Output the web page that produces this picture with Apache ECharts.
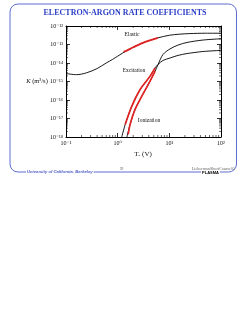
<!DOCTYPE html>
<html>
<head>
<meta charset="utf-8">
<script src="https://cdn.jsdelivr.net/npm/echarts@6/dist/echarts.min.js"></script>
<style>
  html, body { margin: 0; padding: 0; background: #fff; }
  #chart { width: 250px; height: 323px; }
</style>
</head>
<body>
<div id="chart"></div>
<script>
// Te (V) and rate coefficient K (m^3/s)
var elasticT = [0.1, 0.16, 0.25, 0.4, 0.6, 0.8, 1.0, 1.5, 2.0, 3.0, 4.5, 6, 10, 16, 25, 50, 100]
var elasticK = [2.69e-15, 2.34e-15, 2.95e-15, 5.0e-15, 1.0e-14, 1.58e-14, 2.34e-14, 4.7e-14, 7.1e-14, 1.2e-13, 1.78e-13, 2.29e-13, 3.16e-13, 3.63e-13, 3.89e-13, 4.07e-13, 4.07e-13]
var elasticRedT = [1.3, 1.5, 2.0, 3.0, 4.5, 6]
var elasticRedK = [4.0e-14, 4.7e-14, 7.1e-14, 1.2e-13, 1.78e-13, 2.29e-13]

var excitT = [1.2, 1.4, 1.88, 2.72, 4.24, 5.3, 6.05, 7.55, 10.3, 14.7, 22, 44.7, 100]
var excitK = [1e-18, 4.8e-18, 4.7e-17, 3.7e-16, 1.95e-15, 5.5e-15, 8.3e-15, 1.38e-14, 1.86e-14, 2.57e-14, 3.24e-14, 4.17e-14, 4.8e-14]
var excitRedT = [1.4, 1.88, 2.72, 4.24, 5.3]
var excitRedK = [4.8e-18, 4.7e-17, 3.7e-16, 1.95e-15, 5.5e-15]

var ionT = [1.51, 1.74, 2.17, 2.93, 4.24, 5.3, 6.05, 7.55, 10.3, 14.7, 22, 44.7, 100]
var ionK = [1e-18, 4.8e-18, 3.1e-17, 1.6e-16, 1.05e-15, 3.6e-15, 8.3e-15, 2.9e-14, 5.75e-14, 9.3e-14, 1.29e-13, 1.74e-13, 2.04e-13]
var ionRedT = [1.6, 1.74, 2.17, 2.93, 4.24, 5.3]
var ionRedK = [1.4e-18, 4.8e-18, 3.1e-17, 1.6e-16, 1.05e-15, 3.6e-15]

var xMin = 0.1, xMax = 100
var yMin = 1e-18, yMax = 1e-12

var serif = '"Liberation Serif", "DejaVu Serif", serif'
var sup = { '-': '⁻', '0': '⁰', '1': '¹', '2': '²', '3': '³', '4': '⁴', '5': '⁵', '6': '⁶', '7': '⁷', '8': '⁸', '9': '⁹' }

function pow10Label(v) {
  var e = Math.round(Math.log10(v))
  return '10' + String(e).split('').map(function (c) { return sup[c] }).join('')
}

function zip(a, b) {
  return a.map(function (v, i) { return [v, b[i]] })
}

// minor log ticks 2..9 in each decade
function minorTicks(lo, hi) {
  var out = []
  for (var e = lo; e < hi; e++) {
    for (var m = 2; m <= 9; m++) out.push(m * Math.pow(10, e))
  }
  return out
}

var chart = echarts.init(document.getElementById('chart'))

function axisCommon(show) {
  return {
    type: 'log',
    logBase: 10,
    axisLine: { show: true, lineStyle: { color: '#000', width: 1 } },
    axisTick: { show: true, inside: true, length: 4, lineStyle: { color: '#000', width: 0.8 } },
    splitLine: { show: false },
    axisLabel: {
      show: show,
      fontFamily: serif,
      fontSize: 6,
      color: '#111',
      formatter: pow10Label
    }
  }
}

var xBottom = axisCommon(true)
xBottom.min = xMin; xBottom.max = xMax; xBottom.position = 'bottom'
xBottom.axisLabel.margin = 3
var xTop = axisCommon(false)
xTop.min = xMin; xTop.max = xMax; xTop.position = 'top'
var yLeft = axisCommon(true)
yLeft.min = yMin; yLeft.max = yMax; yLeft.position = 'left'
yLeft.axisLabel.margin = 3
var yRight = axisCommon(false)
yRight.min = yMin; yRight.max = yMax; yRight.position = 'right'

function lineSeries(t, k, color, width) {
  return {
    type: 'line',
    data: zip(t, k),
    showSymbol: false,
    smooth: 0.3,
    silent: true,
    lineStyle: { color: color, width: width },
    z: color === '#000' ? 2 : 3
  }
}

chart.setOption({
  backgroundColor: '#fff',
  animation: false,
  grid: { left: 66, top: 26, width: 155, height: 111 },
  xAxis: [xBottom, xTop],
  yAxis: [yLeft, yRight],
  series: [
    lineSeries(elasticT, elasticK, '#000', 0.9),
    lineSeries(excitT, excitK, '#000', 0.9),
    lineSeries(ionT, ionK, '#000', 0.9),
    lineSeries(elasticRedT, elasticRedK, '#e02424', 1.9),
    lineSeries(excitRedT, excitRedK, '#e02424', 1.7),
    lineSeries(ionRedT, ionRedK, '#e02424', 1.7),
    {
      type: 'custom',
      silent: true,
      data: minorTicks(-1, 2).map(function (v) { return [v, 1e-15] }),
      renderItem: function (params, api) {
        var cs = params.coordSys
        var x = api.coord([api.value(0), api.value(1)])[0]
        var st = { stroke: '#000', lineWidth: 0.6 }
        return {
          type: 'group',
          children: [
            { type: 'line', shape: { x1: x, y1: cs.y + cs.height, x2: x, y2: cs.y + cs.height - 2 }, style: st },
            { type: 'line', shape: { x1: x, y1: cs.y, x2: x, y2: cs.y + 2 }, style: st }
          ]
        }
      }
    },
    {
      type: 'custom',
      silent: true,
      data: minorTicks(-18, -12).map(function (v) { return [1, v] }),
      renderItem: function (params, api) {
        var cs = params.coordSys
        var y = api.coord([api.value(0), api.value(1)])[1]
        var st = { stroke: '#000', lineWidth: 0.6 }
        return {
          type: 'group',
          children: [
            { type: 'line', shape: { x1: cs.x, y1: y, x2: cs.x + 2, y2: y }, style: st },
            { type: 'line', shape: { x1: cs.x + cs.width, y1: y, x2: cs.x + cs.width - 2, y2: y }, style: st }
          ]
        }
      }
    }
  ],
  graphic: [
    {
      type: 'rect',
      shape: { x: 10, y: 4, width: 226.5, height: 168, r: 8 },
      style: { fill: 'none', stroke: '#5d6fcf', lineWidth: 1 },
      z: 0
    },
    {
      type: 'text', x: 125, y: 13,
      style: {
        text: 'ELECTRON-ARGON RATE COEFFICIENTS',
        align: 'center', verticalAlign: 'middle',
        font: 'bold 8px ' + serif, fill: '#2b3ec6'
      }
    },
    {
      type: 'text', x: 37, y: 81.5,
      style: {
        text: '{i|K} (m³/s)',
        align: 'center', verticalAlign: 'middle',
        font: '6.5px ' + serif, fill: '#111',
        rich: { i: { fontStyle: 'italic', fontFamily: serif, fontSize: 6.5 } }
      }
    },
    {
      type: 'text', x: 143, y: 154,
      style: {
        text: 'Tₑ (V)',
        align: 'center', verticalAlign: 'middle',
        font: '7px ' + serif, fill: '#111'
      }
    },
    {
      type: 'text', x: 132, y: 35,
      style: { text: 'Elastic', align: 'center', verticalAlign: 'middle', font: '5.5px ' + serif, fill: '#111' }
    },
    {
      type: 'text', x: 134, y: 70.5,
      style: { text: 'Excitation', align: 'center', verticalAlign: 'middle', font: '5.5px ' + serif, fill: '#111' }
    },
    {
      type: 'text', x: 149, y: 120.5,
      style: { text: 'Ionization', align: 'center', verticalAlign: 'middle', font: '5.5px ' + serif, fill: '#111' }
    },
    {
      type: 'text', x: 26, y: 172,
      style: {
        text: 'University of California, Berkeley',
        align: 'left', verticalAlign: 'middle',
        font: 'italic bold 4.2px "Liberation Sans", sans-serif', fill: '#4a5cc8',
        backgroundColor: '#fff', padding: [0, 1]
      },
      z: 10
    },
    {
      type: 'text', x: 121.5, y: 169,
      style: { text: '59', align: 'center', verticalAlign: 'middle', font: '3.5px ' + serif, fill: '#555' }
    },
    {
      type: 'text', x: 235, y: 168.5,
      style: { text: 'LiebermanShortCourse05', align: 'right', verticalAlign: 'middle', font: '4.2px ' + serif, fill: '#666' }
    },
    {
      type: 'text', x: 210.5, y: 172.5,
      style: {
        text: '{p|P}{l|L}{a|A}{s|S}{m|M}{b|A}',
        align: 'center', verticalAlign: 'middle',
        font: 'bold 4px "Liberation Sans", sans-serif',
        backgroundColor: '#fff', padding: [0, 1],
        rich: {
          p: { color: '#f0c020', fontSize: 4, fontWeight: 'bold' },
          l: { color: '#f07ac0', fontSize: 4, fontWeight: 'bold' },
          a: { color: '#70c0f0', fontSize: 4, fontWeight: 'bold' },
          s: { color: '#a070e0', fontSize: 4, fontWeight: 'bold' },
          m: { color: '#80d060', fontSize: 4, fontWeight: 'bold' },
          b: { color: '#f08040', fontSize: 4, fontWeight: 'bold' }
        }
      },
      z: 10
    }
  ]
})
</script>
</body>
</html>
